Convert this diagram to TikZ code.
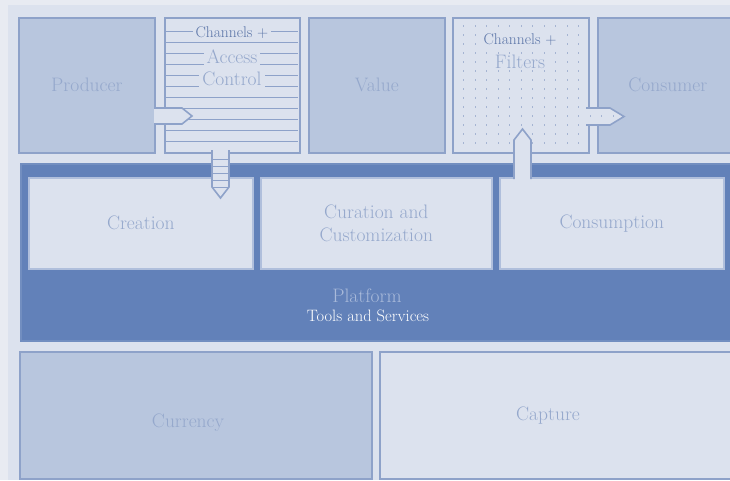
\documentclass[tikz,border=0pt]{standalone}
\usetikzlibrary{calc}

\definecolor{pagebg}{HTML}{E8EBF2}
\definecolor{panel}{HTML}{DCE2EE}
\definecolor{tiledark}{HTML}{B8C6DE}
\definecolor{tileedge}{HTML}{8EA2C9}
\definecolor{inneredge}{HTML}{B0BFDC}
\definecolor{platblue}{HTML}{6281B9}
\definecolor{fadeink}{HTML}{95A8CC}
\definecolor{deepink}{HTML}{5A74A7}
\definecolor{platink}{HTML}{A9BADA}
\definecolor{dotink}{HTML}{A5B4D2}

\begin{document}
\begin{tikzpicture}[x=1pt, y=-1pt,
    tile/.style={draw=tileedge, line width=1.6pt, anchor=north west, inner sep=0pt},
    darktile/.style={tile, fill=tiledark},
    lighttile/.style={tile, fill=panel},
    innertile/.style={lighttile, draw=inneredge, minimum height=91pt},
    bigtext/.style={font=\fontsize{19.5}{23}\selectfont, text=fadeink},
    smalltext/.style={font=\fontsize{15.5}{18}\selectfont, text=deepink},
    knockout/.style={fill=panel, inner xsep=3pt, inner ysep=1pt},
    blockarrow/.style={draw=tileedge, line width=1.6pt, line join=miter}]

    % Page and panel
    \useasboundingbox (0,0) rectangle (730,480);
    \clip (0,0) rectangle (730,480);
    \fill[pagebg] (0,0) rectangle (730,480);
    \fill[panel] (8,5) rectangle (730,480);

    % Top row
    \node[darktile, minimum width=136pt, minimum height=135pt, bigtext] (producer) at (18,17) {Producer};
    \node[lighttile, minimum width=135pt, minimum height=135pt] (access) at (164,17) {};
    \node[darktile, minimum width=136pt, minimum height=135pt, bigtext] (value) at (308,17) {Value};
    \node[lighttile, minimum width=136pt, minimum height=135pt] (filters) at (452,17) {};
    \node[darktile, minimum width=140pt, minimum height=135pt, bigtext] (consumer) at (597,17) {Consumer};

    % Stripes of the access box
    \foreach \y in {31,42,...,141}
        \draw[tileedge, line width=0.8pt] (165,\y) -- (298,\y);
    \node[smalltext, knockout] (accesshead) at (232,33) {Channels +};
    \node[bigtext, knockout] (accessmid) at (232,57) {Access};
    \node[bigtext, knockout] (accesslow) at (232,79) {Control};

    % Dots of the filters box
    \foreach \x in {463,474.5,...,580}
        \foreach \y in {25,34,...,146}
            \fill[dotink] (\x,\y) rectangle ++(0.9,1.8);
    \node[smalltext, knockout] (filtershead) at (520,40) {Channels +};
    \node[bigtext, knockout] (filterslow) at (520,62) {Filters};

    % Platform
    \node[tile, fill=platblue, draw=platblue!90!white, minimum width=714pt, minimum height=177pt] (platform) at (20,163) {};
    \node[innertile, minimum width=224pt, bigtext] (creation) at (28,177) {Creation};
    \node[innertile, minimum width=231pt, bigtext, align=center] (curation) at (260,177) {Curation and\\Customization};
    \node[innertile, minimum width=224pt, bigtext] (consumption) at (499,177) {Consumption};
    \node[font=\fontsize{19.5}{23}\selectfont, text=platink] (platname) at (367,296) {Platform};
    \node[font=\fontsize{16.5}{19}\selectfont, text=white] (platsub) at (368,316) {Tools and Services};

    % Bottom row
    \node[darktile, minimum width=352pt, minimum height=127pt] (currency) at (19,351) {};
    \node[lighttile, minimum width=358pt, minimum height=127pt] (capture) at (379,351) {};
    \node[bigtext] (currencytext) at (188,423) {Currency};
    \node[bigtext] (capturetext) at (548,416) {Capture};

    % Producer into access
    \coordinate (feedin) at (154,116);
    \fill[panel] (feedin) ++(0,-8) -- ++(28,0) -- ++(10,8) -- ++(-10,8) -- ++(-28,0) -- cycle;
    \draw[blockarrow] (feedin) ++(0,-8) -- ++(28,0) -- ++(10,8) -- ++(-10,8) -- ++(-28,0);

    % Access down to creation
    \coordinate (dropout) at (220.5,150);
    \fill[panel] (dropout) ++(-8.5,0) -- ++(0,37) -- ++(8.5,11) -- ++(8.5,-11) -- ++(0,-37) -- cycle;
    \foreach \y in {159,166,173,180,187}
        \draw[tileedge, line width=0.8pt] (212,\y) -- (229,\y);
    \draw[blockarrow] (dropout) ++(-8.5,0) -- ++(0,37) -- ++(8.5,11) -- ++(8.5,-11) -- ++(0,-37);

    % Consumption up to filters
    \coordinate (liftin) at (522.5,179);
    \fill[panel] (liftin) ++(-8.5,0) -- ++(0,-39) -- ++(8.5,-11) -- ++(8.5,11) -- ++(0,39) -- cycle;
    \draw[blockarrow] (liftin) ++(-8.5,0) -- ++(0,-39) -- ++(8.5,-11) -- ++(8.5,11) -- ++(0,39);

    % Filters out to consumer
    \coordinate (feedout) at (586,116.5);
    \fill[panel] (feedout) ++(0,-8.5) -- ++(24,0) -- ++(14,8.5) -- ++(-14,8.5) -- ++(-24,0) -- cycle;
    \begin{scope}
        \clip (feedout) ++(0,-8.5) -- ++(24,0) -- ++(14,8.5) -- ++(-14,8.5) -- ++(-24,0) -- cycle;
        \foreach \x in {589.5,601,612.5}
            \foreach \y in {106,115,124}
                \fill[dotink] (\x,\y) rectangle ++(0.9,1.8);
    \end{scope}
    \draw[blockarrow] (feedout) ++(0,-8.5) -- ++(24,0) -- ++(14,8.5) -- ++(-14,8.5) -- ++(-24,0);
\end{tikzpicture}
\end{document}
